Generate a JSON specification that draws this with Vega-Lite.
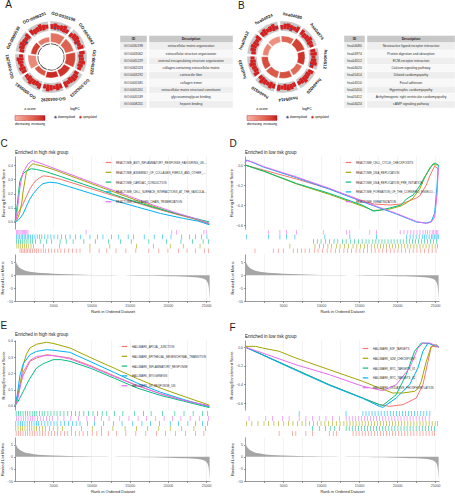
{
"$schema":"https://vega.github.io/schema/vega-lite/v6.json",
"padding":0,
"config":{"font":"Liberation Sans","view":{"stroke":null},
"axis":{"labelFontSize":3.5,"titleFontSize":4,"labelColor":"#4d4d4d","titleColor":"#1a1a1a","titleFontWeight":"normal","tickSize":1.5,"tickWidth":0.5,"tickColor":"#333333","domainColor":"#333333","domainWidth":0.5,"labelPadding":1,"titlePadding":2,"gridColor":"#e6e6e6","gridWidth":0.5},
"title":{"fontSize":4.5,"fontWeight":"normal","anchor":"start","color":"#1a1a1a","offset":2},
"legend":{"titleFontSize":3.5,"labelFontSize":3,"titleFontWeight":"normal"}},
"datasets":{
"sA":[{"id":"GO:0030198","t0":-1,"t1":35,"m":17,"h":9,"z":3.2},{"id":"GO:0043062","t0":39,"t1":75,"m":57,"h":8.5,"z":3.6},{"id":"GO:0045229","t0":79,"t1":115,"m":97,"h":9.5,"z":4.2},{"id":"GO:0062023","t0":119,"t1":155,"m":137,"h":7,"z":4.6},{"id":"GO:0043292","t0":159,"t1":195,"m":177,"h":6,"z":4.8},{"id":"GO:0005581","t0":199,"t1":235,"m":217,"h":5,"z":3.9},{"id":"GO:0005201","t0":239,"t1":275,"m":257,"h":8,"z":2.6},{"id":"GO:0005539","t0":279,"t1":315,"m":297,"h":5.5,"z":4.4},{"id":"GO:0008201","t0":319,"t1":355,"m":337,"h":5,"z":3.0}],
"sB":[{"id":"hsa04080","t0":-5,"t1":31,"m":13,"h":6,"z":3.5},{"id":"hsa04974","t0":35,"t1":71,"m":53,"h":8,"z":4.3},{"id":"hsa04512","t0":75,"t1":111,"m":93,"h":7,"z":4.6},{"id":"hsa04020","t0":115,"t1":151,"m":133,"h":6,"z":3.4},{"id":"hsa05414","t0":155,"t1":191,"m":173,"h":6.5,"z":4.0},{"id":"hsa04510","t0":195,"t1":231,"m":213,"h":7,"z":3.8},{"id":"hsa05410","t0":235,"t1":271,"m":253,"h":6.5,"z":4.1},{"id":"hsa05412","t0":275,"t1":311,"m":293,"h":5.5,"z":2.8},{"id":"hsa04024","t0":315,"t1":351,"m":333,"h":6,"z":2.4}],
"gA":[
{"a":-1,"b":5,"lo":2,"hi":7,"reg":"upregulated"},{"a":5,"b":11,"lo":1.5,"hi":8,"reg":"upregulated"},{"a":11,"b":17,"lo":2.5,"hi":6.5,"reg":"upregulated"},{"a":17,"b":23,"lo":2,"hi":7.5,"reg":"upregulated"},{"a":23,"b":29,"lo":1.5,"hi":8.5,"reg":"upregulated"},{"a":29,"b":35,"lo":2,"hi":6,"reg":"upregulated"},
{"a":39,"b":45,"lo":1.5,"hi":6,"reg":"upregulated"},{"a":45,"b":51,"lo":2,"hi":7.5,"reg":"upregulated"},{"a":51,"b":57,"lo":2,"hi":8,"reg":"upregulated"},{"a":57,"b":63,"lo":1,"hi":7,"reg":"upregulated"},{"a":63,"b":69,"lo":2.5,"hi":6.5,"reg":"upregulated"},{"a":69,"b":75,"lo":2,"hi":8,"reg":"upregulated"},
{"a":79,"b":85,"lo":2.5,"hi":8,"reg":"upregulated"},{"a":85,"b":91,"lo":1.5,"hi":6.5,"reg":"upregulated"},{"a":91,"b":97,"lo":2,"hi":7,"reg":"upregulated"},{"a":97,"b":103,"lo":2,"hi":8.5,"reg":"upregulated"},{"a":103,"b":109,"lo":1.5,"hi":7,"reg":"upregulated"},{"a":109,"b":115,"lo":2.5,"hi":6.5,"reg":"upregulated"},
{"a":119,"b":125,"lo":1.5,"hi":6,"reg":"upregulated"},{"a":125,"b":131,"lo":2,"hi":7.5,"reg":"upregulated"},{"a":131,"b":137,"lo":2,"hi":8,"reg":"upregulated"},{"a":137,"b":143,"lo":1,"hi":7,"reg":"upregulated"},{"a":143,"b":149,"lo":2.5,"hi":6.5,"reg":"upregulated"},{"a":149,"b":155,"lo":2,"hi":8,"reg":"upregulated"},
{"a":159,"b":165,"lo":2,"hi":7,"reg":"upregulated"},{"a":165,"b":171,"lo":1.5,"hi":8,"reg":"upregulated"},{"a":171,"b":177,"lo":2.5,"hi":6.5,"reg":"upregulated"},{"a":177,"b":183,"lo":2,"hi":7.5,"reg":"upregulated"},{"a":183,"b":189,"lo":1.5,"hi":8.5,"reg":"upregulated"},{"a":189,"b":195,"lo":2,"hi":6,"reg":"upregulated"},
{"a":199,"b":205,"lo":2.5,"hi":8,"reg":"upregulated"},{"a":205,"b":211,"lo":1.5,"hi":6.5,"reg":"upregulated"},{"a":211,"b":217,"lo":2,"hi":7,"reg":"upregulated"},{"a":217,"b":223,"lo":2,"hi":8.5,"reg":"upregulated"},{"a":223,"b":229,"lo":1.5,"hi":7,"reg":"upregulated"},{"a":229,"b":235,"lo":2.5,"hi":6.5,"reg":"upregulated"},
{"a":239,"b":245,"lo":2,"hi":7,"reg":"upregulated"},{"a":245,"b":251,"lo":1.5,"hi":8,"reg":"upregulated"},{"a":251,"b":257,"lo":2.5,"hi":6.5,"reg":"upregulated"},{"a":257,"b":263,"lo":2,"hi":7.5,"reg":"upregulated"},{"a":263,"b":269,"lo":1.5,"hi":8.5,"reg":"upregulated"},{"a":269,"b":275,"lo":2,"hi":6,"reg":"upregulated"},
{"a":279,"b":285,"lo":1.5,"hi":6,"reg":"upregulated"},{"a":285,"b":291,"lo":2,"hi":7.5,"reg":"upregulated"},{"a":291,"b":297,"lo":2,"hi":8,"reg":"upregulated"},{"a":297,"b":303,"lo":1,"hi":7,"reg":"upregulated"},{"a":303,"b":309,"lo":2.5,"hi":6.5,"reg":"upregulated"},{"a":309,"b":315,"lo":2,"hi":8,"reg":"upregulated"},
{"a":319,"b":325,"lo":2.5,"hi":8,"reg":"upregulated"},{"a":325,"b":331,"lo":1.5,"hi":6.5,"reg":"upregulated"},{"a":331,"b":337,"lo":2,"hi":7,"reg":"upregulated"},{"a":337,"b":343,"lo":2,"hi":8.5,"reg":"upregulated"},{"a":343,"b":349,"lo":1.5,"hi":7,"reg":"upregulated"},{"a":349,"b":355,"lo":2.5,"hi":6.5,"reg":"upregulated"},
{"a":5,"b":8,"lo":3,"hi":4.3,"reg":"downregulated"},{"a":13,"b":16,"lo":1.5,"hi":2.8,"reg":"downregulated"},{"a":60,"b":63,"lo":3,"hi":4.3,"reg":"downregulated"},{"a":88,"b":91,"lo":2,"hi":3.3,"reg":"downregulated"},{"a":290,"b":293,"lo":3,"hi":4.3,"reg":"downregulated"},{"a":299,"b":302,"lo":1.8,"hi":3.1,"reg":"downregulated"}],
"gB":[
{"a":-5,"b":1,"lo":1.5,"hi":6,"reg":"upregulated"},{"a":1,"b":7,"lo":2,"hi":7.5,"reg":"upregulated"},{"a":7,"b":13,"lo":2,"hi":8,"reg":"upregulated"},{"a":13,"b":19,"lo":1,"hi":7,"reg":"upregulated"},{"a":19,"b":25,"lo":2.5,"hi":6.5,"reg":"upregulated"},{"a":25,"b":31,"lo":2,"hi":8,"reg":"upregulated"},
{"a":35,"b":41,"lo":2.5,"hi":8,"reg":"upregulated"},{"a":41,"b":47,"lo":1.5,"hi":6.5,"reg":"upregulated"},{"a":47,"b":53,"lo":2,"hi":7,"reg":"upregulated"},{"a":53,"b":59,"lo":2,"hi":8.5,"reg":"upregulated"},{"a":59,"b":65,"lo":1.5,"hi":7,"reg":"upregulated"},{"a":65,"b":71,"lo":2.5,"hi":6.5,"reg":"upregulated"},
{"a":75,"b":81,"lo":2,"hi":7,"reg":"upregulated"},{"a":81,"b":87,"lo":1.5,"hi":8,"reg":"upregulated"},{"a":87,"b":93,"lo":2.5,"hi":6.5,"reg":"upregulated"},{"a":93,"b":99,"lo":2,"hi":7.5,"reg":"upregulated"},{"a":99,"b":105,"lo":1.5,"hi":8.5,"reg":"upregulated"},{"a":105,"b":111,"lo":2,"hi":6,"reg":"upregulated"},
{"a":115,"b":121,"lo":2.5,"hi":8,"reg":"upregulated"},{"a":121,"b":127,"lo":1.5,"hi":6.5,"reg":"upregulated"},{"a":127,"b":133,"lo":2,"hi":7,"reg":"upregulated"},{"a":133,"b":139,"lo":2,"hi":8.5,"reg":"upregulated"},{"a":139,"b":145,"lo":1.5,"hi":7,"reg":"upregulated"},{"a":145,"b":151,"lo":2.5,"hi":6.5,"reg":"upregulated"},
{"a":155,"b":161,"lo":1.5,"hi":6,"reg":"upregulated"},{"a":161,"b":167,"lo":2,"hi":7.5,"reg":"upregulated"},{"a":167,"b":173,"lo":2,"hi":8,"reg":"upregulated"},{"a":173,"b":179,"lo":1,"hi":7,"reg":"upregulated"},{"a":179,"b":185,"lo":2.5,"hi":6.5,"reg":"upregulated"},{"a":185,"b":191,"lo":2,"hi":8,"reg":"upregulated"},
{"a":195,"b":201,"lo":2,"hi":7,"reg":"upregulated"},{"a":201,"b":207,"lo":1.5,"hi":8,"reg":"upregulated"},{"a":207,"b":213,"lo":2.5,"hi":6.5,"reg":"upregulated"},{"a":213,"b":219,"lo":2,"hi":7.5,"reg":"upregulated"},{"a":219,"b":225,"lo":1.5,"hi":8.5,"reg":"upregulated"},{"a":225,"b":231,"lo":2,"hi":6,"reg":"upregulated"},
{"a":235,"b":241,"lo":2.5,"hi":8,"reg":"upregulated"},{"a":241,"b":247,"lo":1.5,"hi":6.5,"reg":"upregulated"},{"a":247,"b":253,"lo":2,"hi":7,"reg":"upregulated"},{"a":253,"b":259,"lo":2,"hi":8.5,"reg":"upregulated"},{"a":259,"b":265,"lo":1.5,"hi":7,"reg":"upregulated"},{"a":265,"b":271,"lo":2.5,"hi":6.5,"reg":"upregulated"},
{"a":275,"b":281,"lo":1.5,"hi":6,"reg":"upregulated"},{"a":281,"b":287,"lo":2,"hi":7.5,"reg":"upregulated"},{"a":287,"b":293,"lo":2,"hi":8,"reg":"upregulated"},{"a":293,"b":299,"lo":1,"hi":7,"reg":"upregulated"},{"a":299,"b":305,"lo":2.5,"hi":6.5,"reg":"upregulated"},{"a":305,"b":311,"lo":2,"hi":8,"reg":"upregulated"},
{"a":315,"b":321,"lo":2,"hi":7,"reg":"upregulated"},{"a":321,"b":327,"lo":1.5,"hi":8,"reg":"upregulated"},{"a":327,"b":333,"lo":2.5,"hi":6.5,"reg":"upregulated"},{"a":333,"b":339,"lo":2,"hi":7.5,"reg":"upregulated"},{"a":339,"b":345,"lo":1.5,"hi":8.5,"reg":"upregulated"},{"a":345,"b":351,"lo":2,"hi":6,"reg":"upregulated"},
{"a":344,"b":347,"lo":3,"hi":4.3,"reg":"downregulated"},{"a":14,"b":17,"lo":2.5,"hi":3.8,"reg":"downregulated"},{"a":104,"b":107,"lo":2,"hi":3.3,"reg":"downregulated"}],
"tA":[{"r":0,"id":"ID","d":"Description"},{"r":1,"id":"GO:0030198","d":"extracellular matrix organization"},{"r":2,"id":"GO:0043062","d":"extracellular structure organization"},{"r":3,"id":"GO:0045229","d":"external encapsulating structure organization"},{"r":4,"id":"GO:0062023","d":"collagen-containing extracellular matrix"},{"r":5,"id":"GO:0043292","d":"contractile fiber"},{"r":6,"id":"GO:0005581","d":"collagen trimer"},{"r":7,"id":"GO:0005201","d":"extracellular matrix structural constituent"},{"r":8,"id":"GO:0005539","d":"glycosaminoglycan binding"},{"r":9,"id":"GO:0008201","d":"heparin binding"}],
"tB":[{"r":0,"id":"ID","d":"Description"},{"r":1,"id":"hsa04080","d":"Neuroactive ligand-receptor interaction"},{"r":2,"id":"hsa04974","d":"Protein digestion and absorption"},{"r":3,"id":"hsa04512","d":"ECM-receptor interaction"},{"r":4,"id":"hsa04020","d":"Calcium signaling pathway"},{"r":5,"id":"hsa05414","d":"Dilated cardiomyopathy"},{"r":6,"id":"hsa04510","d":"Focal adhesion"},{"r":7,"id":"hsa05410","d":"Hypertrophic cardiomyopathy"},{"r":8,"id":"hsa05412","d":"Arrhythmogenic right ventricular cardiomyopathy"},{"r":9,"id":"hsa04024","d":"cAMP signaling pathway"}],
"nC":[{"k":"r","s":"REACTOME_ANTI_INFLAMMATORY_RESPONSE_FAVOURING_LEISHMANIA_PARASITE_INFECTION"},{"k":"o","s":"REACTOME_ASSEMBLY_OF_COLLAGEN_FIBRILS_AND_OTHER_MULTIMERIC_STRUCTURES"},{"k":"g","s":"REACTOME_CARDIAC_CONDUCTION"},{"k":"b","s":"REACTOME_CELL_SURFACE_INTERACTIONS_AT_THE_VASCULAR_WALL"},{"k":"p","s":"REACTOME_COLLAGEN_CHAIN_TRIMERIZATION"}],
"nD":[{"k":"r","s":"REACTOME_CELL_CYCLE_CHECKPOINTS"},{"k":"o","s":"REACTOME_DNA_REPLICATION"},{"k":"g","s":"REACTOME_DNA_REPLICATION_PRE_INITIATION"},{"k":"b","s":"REACTOME_FORMATION_OF_THE_CORNIFIED_ENVELOPE"},{"k":"p","s":"REACTOME_KERATINIZATION"}],
"nE":[{"k":"r","s":"HALLMARK_APICAL_JUNCTION"},{"k":"o","s":"HALLMARK_EPITHELIAL_MESENCHYMAL_TRANSITION"},{"k":"g","s":"HALLMARK_INFLAMMATORY_RESPONSE"},{"k":"b","s":"HALLMARK_MYOGENESIS"},{"k":"p","s":"HALLMARK_UV_RESPONSE_DN"}],
"nF":[{"k":"r","s":"HALLMARK_E2F_TARGETS"},{"k":"o","s":"HALLMARK_G2M_CHECKPOINT"},{"k":"g","s":"HALLMARK_MYC_TARGETS_V1"},{"k":"b","s":"HALLMARK_MYC_TARGETS_V2"},{"k":"p","s":"HALLMARK_OXIDATIVE_PHOSPHORYLATION"}],
"lC":[
{"k":"r","x":0,"y":0},{"k":"r","x":200,"y":0.03},{"k":"r","x":420,"y":0.065},{"k":"r","x":700,"y":0.09},{"k":"r","x":1046,"y":0.125},{"k":"r","x":1500,"y":0.18},{"k":"r","x":1920,"y":0.23},{"k":"r","x":2400,"y":0.27},{"k":"r","x":2790,"y":0.295},{"k":"r","x":3200,"y":0.31},{"k":"r","x":3700,"y":0.325},{"k":"r","x":4500,"y":0.32},{"k":"r","x":6000,"y":0.3},{"k":"r","x":9000,"y":0.25},{"k":"r","x":12000,"y":0.2},{"k":"r","x":15000,"y":0.15},{"k":"r","x":18000,"y":0.1},{"k":"r","x":21000,"y":0.055},{"k":"r","x":23500,"y":0.02},{"k":"r","x":25400,"y":-0.015},
{"k":"o","x":0,"y":0},{"k":"o","x":300,"y":0.02},{"k":"o","x":600,"y":0.06},{"k":"o","x":900,"y":0.14},{"k":"o","x":1046,"y":0.21},{"k":"o","x":1300,"y":0.29},{"k":"o","x":1480,"y":0.35},{"k":"o","x":1800,"y":0.38},{"k":"o","x":2100,"y":0.4},{"k":"o","x":2350,"y":0.41},{"k":"o","x":2700,"y":0.405},{"k":"o","x":3500,"y":0.395},{"k":"o","x":5000,"y":0.37},{"k":"o","x":8000,"y":0.31},{"k":"o","x":11000,"y":0.25},{"k":"o","x":14000,"y":0.19},{"k":"o","x":17000,"y":0.13},{"k":"o","x":20000,"y":0.075},{"k":"o","x":23000,"y":0.03},{"k":"o","x":25400,"y":-0.01},
{"k":"g","x":0,"y":0},{"k":"g","x":150,"y":0.06},{"k":"g","x":300,"y":0.125},{"k":"g","x":450,"y":0.2},{"k":"g","x":610,"y":0.28},{"k":"g","x":800,"y":0.31},{"k":"g","x":1046,"y":0.34},{"k":"g","x":1500,"y":0.36},{"k":"g","x":2140,"y":0.375},{"k":"g","x":2800,"y":0.37},{"k":"g","x":4000,"y":0.355},{"k":"g","x":6000,"y":0.32},{"k":"g","x":9000,"y":0.265},{"k":"g","x":12000,"y":0.21},{"k":"g","x":15000,"y":0.155},{"k":"g","x":18000,"y":0.105},{"k":"g","x":21000,"y":0.06},{"k":"g","x":23500,"y":0.025},{"k":"g","x":25400,"y":0},
{"k":"b","x":0,"y":0},{"k":"b","x":400,"y":0.01},{"k":"b","x":700,"y":0.03},{"k":"b","x":1046,"y":0.055},{"k":"b","x":1500,"y":0.11},{"k":"b","x":1920,"y":0.16},{"k":"b","x":2400,"y":0.2},{"k":"b","x":2790,"y":0.225},{"k":"b","x":3200,"y":0.25},{"k":"b","x":3660,"y":0.27},{"k":"b","x":4530,"y":0.28},{"k":"b","x":5500,"y":0.275},{"k":"b","x":7000,"y":0.25},{"k":"b","x":10000,"y":0.2},{"k":"b","x":13000,"y":0.15},{"k":"b","x":16000,"y":0.105},{"k":"b","x":19000,"y":0.06},{"k":"b","x":22000,"y":0.025},{"k":"b","x":24000,"y":0.005},{"k":"b","x":25400,"y":-0.02},
{"k":"p","x":0,"y":0},{"k":"p","x":150,"y":0.02},{"k":"p","x":300,"y":0.08},{"k":"p","x":450,"y":0.15},{"k":"p","x":610,"y":0.23},{"k":"p","x":800,"y":0.29},{"k":"p","x":1046,"y":0.35},{"k":"p","x":1400,"y":0.38},{"k":"p","x":1700,"y":0.41},{"k":"p","x":2000,"y":0.42},{"k":"p","x":2270,"y":0.435},{"k":"p","x":2600,"y":0.425},{"k":"p","x":3000,"y":0.42},{"k":"p","x":4000,"y":0.4},{"k":"p","x":6000,"y":0.36},{"k":"p","x":9000,"y":0.3},{"k":"p","x":12000,"y":0.24},{"k":"p","x":15000,"y":0.18},{"k":"p","x":18000,"y":0.12},{"k":"p","x":21000,"y":0.065},{"k":"p","x":23500,"y":0.025},{"k":"p","x":25400,"y":-0.01}],
"lD":[
{"k":"r","x":0,"y":0},{"k":"r","x":2406,"y":-0.05},{"k":"r","x":6780,"y":-0.14},{"k":"r","x":11150,"y":-0.24},{"k":"r","x":15530,"y":-0.36},{"k":"r","x":16840,"y":-0.39},{"k":"r","x":19030,"y":-0.4},{"k":"r","x":20500,"y":-0.39},{"k":"r","x":21210,"y":-0.37},{"k":"r","x":22530,"y":-0.33},{"k":"r","x":22960,"y":-0.31},{"k":"r","x":23840,"y":-0.2},{"k":"r","x":24280,"y":-0.11},{"k":"r","x":24930,"y":-0.01},{"k":"r","x":25410,"y":-0.04},
{"k":"o","x":0,"y":0},{"k":"o","x":2406,"y":-0.06},{"k":"o","x":6780,"y":-0.19},{"k":"o","x":11150,"y":-0.295},{"k":"o","x":15530,"y":-0.415},{"k":"o","x":16840,"y":-0.455},{"k":"o","x":18000,"y":-0.45},{"k":"o","x":19030,"y":-0.44},{"k":"o","x":20500,"y":-0.41},{"k":"o","x":21210,"y":-0.38},{"k":"o","x":22100,"y":-0.33},{"k":"o","x":22960,"y":-0.24},{"k":"o","x":23600,"y":-0.13},{"k":"o","x":24280,"y":-0.03},{"k":"o","x":24710,"y":0.005},{"k":"o","x":25410,"y":0},
{"k":"g","x":0,"y":0},{"k":"g","x":2406,"y":-0.06},{"k":"g","x":6780,"y":-0.185},{"k":"g","x":11150,"y":-0.285},{"k":"g","x":15530,"y":-0.405},{"k":"g","x":16840,"y":-0.46},{"k":"g","x":17500,"y":-0.455},{"k":"g","x":19030,"y":-0.43},{"k":"g","x":20500,"y":-0.4},{"k":"g","x":21210,"y":-0.34},{"k":"g","x":22100,"y":-0.3},{"k":"g","x":22960,"y":-0.21},{"k":"g","x":23600,"y":-0.12},{"k":"g","x":24280,"y":-0.04},{"k":"g","x":24710,"y":0.01},{"k":"g","x":25000,"y":0.02},{"k":"g","x":25410,"y":0},
{"k":"b","x":0,"y":0.02},{"k":"b","x":219,"y":0.05},{"k":"b","x":2406,"y":-0.02},{"k":"b","x":6780,"y":-0.127},{"k":"b","x":11150,"y":-0.243},{"k":"b","x":15530,"y":-0.37},{"k":"b","x":19900,"y":-0.49},{"k":"b","x":22530,"y":-0.57},{"k":"b","x":23840,"y":-0.58},{"k":"b","x":24490,"y":-0.565},{"k":"b","x":24930,"y":-0.48},{"k":"b","x":25240,"y":-0.21},{"k":"b","x":25410,"y":0},
{"k":"p","x":0,"y":0.02},{"k":"p","x":219,"y":0.045},{"k":"p","x":1000,"y":0.03},{"k":"p","x":2406,"y":-0.015},{"k":"p","x":6780,"y":-0.12},{"k":"p","x":11150,"y":-0.235},{"k":"p","x":15530,"y":-0.365},{"k":"p","x":19900,"y":-0.485},{"k":"p","x":22530,"y":-0.565},{"k":"p","x":23840,"y":-0.585},{"k":"p","x":24490,"y":-0.57},{"k":"p","x":24930,"y":-0.52},{"k":"p","x":25240,"y":-0.3},{"k":"p","x":25410,"y":-0.03}],
"lE":[
{"k":"r","x":0,"y":0},{"k":"r","x":300,"y":0.04},{"k":"r","x":652,"y":0.13},{"k":"r","x":1086,"y":0.19},{"k":"r","x":1955,"y":0.275},{"k":"r","x":2824,"y":0.295},{"k":"r","x":4127,"y":0.316},{"k":"r","x":5000,"y":0.31},{"k":"r","x":7168,"y":0.295},{"k":"r","x":10000,"y":0.245},{"k":"r","x":13000,"y":0.185},{"k":"r","x":16000,"y":0.125},{"k":"r","x":19000,"y":0.075},{"k":"r","x":22000,"y":0.035},{"k":"r","x":25413,"y":0},
{"k":"o","x":0,"y":0},{"k":"o","x":300,"y":0.05},{"k":"o","x":652,"y":0.13},{"k":"o","x":1086,"y":0.254},{"k":"o","x":1500,"y":0.32},{"k":"o","x":1955,"y":0.357},{"k":"o","x":2824,"y":0.38},{"k":"o","x":4127,"y":0.392},{"k":"o","x":5000,"y":0.385},{"k":"o","x":7168,"y":0.357},{"k":"o","x":10000,"y":0.295},{"k":"o","x":13000,"y":0.232},{"k":"o","x":16000,"y":0.168},{"k":"o","x":19000,"y":0.11},{"k":"o","x":22000,"y":0.06},{"k":"o","x":25413,"y":0.005},
{"k":"g","x":0,"y":0},{"k":"g","x":300,"y":0.02},{"k":"g","x":652,"y":0.05},{"k":"g","x":1086,"y":0.09},{"k":"g","x":1500,"y":0.13},{"k":"g","x":1955,"y":0.17},{"k":"g","x":2824,"y":0.234},{"k":"g","x":3692,"y":0.26},{"k":"g","x":4996,"y":0.285},{"k":"g","x":6000,"y":0.285},{"k":"g","x":7168,"y":0.275},{"k":"g","x":10000,"y":0.23},{"k":"g","x":13000,"y":0.17},{"k":"g","x":16000,"y":0.11},{"k":"g","x":19000,"y":0.065},{"k":"g","x":22000,"y":0.03},{"k":"g","x":25413,"y":-0.01},
{"k":"b","x":0,"y":0},{"k":"b","x":300,"y":0.07},{"k":"b","x":652,"y":0.19},{"k":"b","x":1086,"y":0.26},{"k":"b","x":1955,"y":0.316},{"k":"b","x":2824,"y":0.336},{"k":"b","x":4127,"y":0.346},{"k":"b","x":5000,"y":0.343},{"k":"b","x":7168,"y":0.33},{"k":"b","x":10000,"y":0.27},{"k":"b","x":13000,"y":0.205},{"k":"b","x":16000,"y":0.14},{"k":"b","x":19000,"y":0.085},{"k":"b","x":22000,"y":0.04},{"k":"b","x":25413,"y":-0.005},
{"k":"p","x":0,"y":0},{"k":"p","x":300,"y":0.03},{"k":"p","x":652,"y":0.11},{"k":"p","x":1086,"y":0.21},{"k":"p","x":1955,"y":0.28},{"k":"p","x":2824,"y":0.305},{"k":"p","x":4127,"y":0.31},{"k":"p","x":5000,"y":0.31},{"k":"p","x":7168,"y":0.29},{"k":"p","x":10000,"y":0.24},{"k":"p","x":13000,"y":0.18},{"k":"p","x":16000,"y":0.125},{"k":"p","x":19000,"y":0.075},{"k":"p","x":22000,"y":0.035},{"k":"p","x":25413,"y":0}],
"lF":[
{"k":"r","x":0,"y":0},{"k":"r","x":2286,"y":-0.082},{"k":"r","x":6683,"y":-0.243},{"k":"r","x":11080,"y":-0.404},{"k":"r","x":15476,"y":-0.547},{"k":"r","x":17674,"y":-0.618},{"k":"r","x":18993,"y":-0.636},{"k":"r","x":20752,"y":-0.618},{"k":"r","x":22510,"y":-0.547},{"k":"r","x":23390,"y":-0.404},{"k":"r","x":24050,"y":-0.154},{"k":"r","x":24490,"y":0.007},{"k":"r","x":25500,"y":0},
{"k":"o","x":0,"y":0.007},{"k":"o","x":1407,"y":0.007},{"k":"o","x":2286,"y":-0.011},{"k":"o","x":4484,"y":-0.046},{"k":"o","x":6683,"y":-0.118},{"k":"o","x":11080,"y":-0.243},{"k":"o","x":15476,"y":-0.368},{"k":"o","x":17674,"y":-0.44},{"k":"o","x":19433,"y":-0.493},{"k":"o","x":20752,"y":-0.493},{"k":"o","x":22290,"y":-0.475},{"k":"o","x":22800,"y":-0.44},{"k":"o","x":23170,"y":-0.368},{"k":"o","x":23830,"y":-0.154},{"k":"o","x":24490,"y":0.007},{"k":"o","x":25150,"y":0.025},{"k":"o","x":25500,"y":0},
{"k":"g","x":0,"y":0},{"k":"g","x":2286,"y":-0.082},{"k":"g","x":6683,"y":-0.243},{"k":"g","x":11080,"y":-0.404},{"k":"g","x":15476,"y":-0.547},{"k":"g","x":17674,"y":-0.618},{"k":"g","x":18114,"y":-0.625},{"k":"g","x":19872,"y":-0.511},{"k":"g","x":21191,"y":-0.296},{"k":"g","x":22290,"y":-0.046},{"k":"g","x":23170,"y":0.043},{"k":"g","x":24270,"y":0.035},{"k":"g","x":25500,"y":0},
{"k":"b","x":0,"y":0},{"k":"b","x":2286,"y":-0.085},{"k":"b","x":6683,"y":-0.25},{"k":"b","x":11080,"y":-0.41},{"k":"b","x":15476,"y":-0.55},{"k":"b","x":17674,"y":-0.636},{"k":"b","x":18114,"y":-0.647},{"k":"b","x":19872,"y":-0.547},{"k":"b","x":21631,"y":-0.404},{"k":"b","x":22730,"y":-0.225},{"k":"b","x":23390,"y":-0.046},{"k":"b","x":24050,"y":0.043},{"k":"b","x":25500,"y":0},
{"k":"p","x":0,"y":0},{"k":"p","x":2286,"y":-0.064},{"k":"p","x":6683,"y":-0.19},{"k":"p","x":11080,"y":-0.296},{"k":"p","x":15476,"y":-0.421},{"k":"p","x":18114,"y":-0.468},{"k":"p","x":19872,"y":-0.404},{"k":"p","x":21631,"y":-0.225},{"k":"p","x":22730,"y":-0.011},{"k":"p","x":23390,"y":0.043},{"k":"p","x":24270,"y":0.043},{"k":"p","x":25500,"y":0}],
"rk":[{"x":0,"y":7.5},{"x":50,"y":6.2},{"x":150,"y":5.0},{"x":300,"y":4.0},{"x":500,"y":3.2},{"x":800,"y":2.5},{"x":1200,"y":1.9},{"x":1800,"y":1.45},{"x":2500,"y":1.1},{"x":3500,"y":0.8},{"x":5000,"y":0.55},{"x":7000,"y":0.35},{"x":9000,"y":0.2},{"x":11000,"y":0.1},{"x":12500,"y":0.03},{"x":13500,"y":-0.03},{"x":15000,"y":-0.1},{"x":17000,"y":-0.2},{"x":19000,"y":-0.3},{"x":21000,"y":-0.45},{"x":22500,"y":-0.6},{"x":23500,"y":-0.8},{"x":24300,"y":-1.1},{"x":24800,"y":-1.6},{"x":25100,"y":-2.4},{"x":25300,"y":-4},{"x":25400,"y":-7},{"x":25450,"y":-9.8}],
"hC":[
{"k":"p","x":200},{"k":"p","x":350},{"k":"p","x":500},{"k":"p","x":650},{"k":"p","x":800},{"k":"p","x":950},{"k":"p","x":1100},{"k":"p","x":1250},{"k":"p","x":1400},{"k":"p","x":1550},{"k":"p","x":1700},{"k":"p","x":9300},{"k":"p","x":20500},{"k":"p","x":21100},{"k":"p","x":24700},{"k":"p","x":25000},
{"k":"b","x":200},{"k":"b","x":400},{"k":"b","x":600},{"k":"b","x":800},{"k":"b","x":1000},{"k":"b","x":1200},{"k":"b","x":1400},{"k":"b","x":1600},{"k":"b","x":1800},{"k":"b","x":2000},{"k":"b","x":2300},{"k":"b","x":2600},{"k":"b","x":2900},{"k":"b","x":3200},{"k":"b","x":3500},{"k":"b","x":3900},{"k":"b","x":4300},{"k":"b","x":4700},{"k":"b","x":5100},{"k":"b","x":5600},{"k":"b","x":6100},{"k":"b","x":6600},{"k":"b","x":7200},{"k":"b","x":7900},{"k":"b","x":8600},{"k":"b","x":9800},{"k":"b","x":10800},{"k":"b","x":11500},{"k":"b","x":12600},{"k":"b","x":13500},{"k":"b","x":14800},{"k":"b","x":15500},{"k":"b","x":16900},{"k":"b","x":18200},{"k":"b","x":19300},{"k":"b","x":20400},{"k":"b","x":21800},{"k":"b","x":22800},{"k":"b","x":23600},{"k":"b","x":24400},{"k":"b","x":25100},
{"k":"g","x":200},{"k":"g","x":450},{"k":"g","x":700},{"k":"g","x":950},{"k":"g","x":1200},{"k":"g","x":1450},{"k":"g","x":1700},{"k":"g","x":2000},{"k":"g","x":2300},{"k":"g","x":2700},{"k":"g","x":3300},{"k":"g","x":4100},{"k":"g","x":4800},{"k":"g","x":5900},{"k":"g","x":6700},{"k":"g","x":7600},{"k":"g","x":9000},{"k":"g","x":10500},{"k":"g","x":12200},{"k":"g","x":13800},{"k":"g","x":15200},{"k":"g","x":17500},{"k":"g","x":19800},{"k":"g","x":21700},{"k":"g","x":23200},{"k":"g","x":24600},{"k":"g","x":25300},
{"k":"o","x":250},{"k":"o","x":500},{"k":"o","x":750},{"k":"o","x":1000},{"k":"o","x":1250},{"k":"o","x":1500},{"k":"o","x":1800},{"k":"o","x":2100},{"k":"o","x":2400},{"k":"o","x":3700},{"k":"o","x":5800},{"k":"o","x":9800},{"k":"o","x":12400},{"k":"o","x":15900},{"k":"o","x":18100},{"k":"o","x":20300},{"k":"o","x":22000},{"k":"o","x":24200},
{"k":"r","x":650},{"k":"r","x":850},{"k":"r","x":1050},{"k":"r","x":1250},{"k":"r","x":1450},{"k":"r","x":1650},{"k":"r","x":1850},{"k":"r","x":2050},{"k":"r","x":2300},{"k":"r","x":2550},{"k":"r","x":2800},{"k":"r","x":3100},{"k":"r","x":3400},{"k":"r","x":3700},{"k":"r","x":4000},{"k":"r","x":4400},{"k":"r","x":4800},{"k":"r","x":5200},{"k":"r","x":5600},{"k":"r","x":6000},{"k":"r","x":6500},{"k":"r","x":7000},{"k":"r","x":7500},{"k":"r","x":8000},{"k":"r","x":8500},{"k":"r","x":9800},{"k":"r","x":11000},{"k":"r","x":12000},{"k":"r","x":13200},{"k":"r","x":14500},{"k":"r","x":15800},{"k":"r","x":17500},{"k":"r","x":18800},{"k":"r","x":20000},{"k":"r","x":21400},{"k":"r","x":22500},{"k":"r","x":23600},{"k":"r","x":24800},{"k":"r","x":25300}],
"hD":[
{"k":"p","x":3060},{"k":"p","x":4590},{"k":"p","x":5470},{"k":"p","x":6780},{"k":"p","x":10280},{"k":"p","x":13340},{"k":"p","x":13780},{"k":"p","x":16400},{"k":"p","x":17280},{"k":"p","x":20400},{"k":"p","x":20900},{"k":"p","x":21400},{"k":"p","x":21800},{"k":"p","x":22200},{"k":"p","x":22600},{"k":"p","x":23000},{"k":"p","x":23400},{"k":"p","x":23700},{"k":"p","x":24000},{"k":"p","x":24300},{"k":"p","x":24600},{"k":"p","x":24800},{"k":"p","x":25000},{"k":"p","x":25200},{"k":"p","x":25350},
{"k":"b","x":220},{"k":"b","x":3060},{"k":"b","x":4590},{"k":"b","x":5470},{"k":"b","x":6560},{"k":"b","x":10500},{"k":"b","x":13780},{"k":"b","x":17280},{"k":"b","x":21200},{"k":"b","x":21700},{"k":"b","x":22100},{"k":"b","x":22500},{"k":"b","x":22900},{"k":"b","x":23300},{"k":"b","x":23600},{"k":"b","x":23900},{"k":"b","x":24200},{"k":"b","x":24500},{"k":"b","x":24700},{"k":"b","x":24900},{"k":"b","x":25100},{"k":"b","x":25250},{"k":"b","x":25400},
{"k":"g","x":9000},{"k":"g","x":9500},{"k":"g","x":10000},{"k":"g","x":10600},{"k":"g","x":11100},{"k":"g","x":11700},{"k":"g","x":12200},{"k":"g","x":12800},{"k":"g","x":13300},{"k":"g","x":13900},{"k":"g","x":14400},{"k":"g","x":14900},{"k":"g","x":15400},{"k":"g","x":15900},{"k":"g","x":16300},{"k":"g","x":16800},{"k":"g","x":17200},{"k":"g","x":17600},{"k":"g","x":18000},{"k":"g","x":18400},{"k":"g","x":18800},{"k":"g","x":19200},{"k":"g","x":19600},{"k":"g","x":20000},{"k":"g","x":20400},{"k":"g","x":20800},{"k":"g","x":21200},{"k":"g","x":21600},{"k":"g","x":22000},{"k":"g","x":22400},{"k":"g","x":22800},{"k":"g","x":23200},{"k":"g","x":23600},{"k":"g","x":24000},{"k":"g","x":24400},{"k":"g","x":24800},{"k":"g","x":25200},
{"k":"o","x":5900},{"k":"o","x":9200},{"k":"o","x":9800},{"k":"o","x":10300},{"k":"o","x":10900},{"k":"o","x":11400},{"k":"o","x":12000},{"k":"o","x":12500},{"k":"o","x":13100},{"k":"o","x":13600},{"k":"o","x":14200},{"k":"o","x":14700},{"k":"o","x":15200},{"k":"o","x":15700},{"k":"o","x":16100},{"k":"o","x":16600},{"k":"o","x":17000},{"k":"o","x":17400},{"k":"o","x":17800},{"k":"o","x":18200},{"k":"o","x":18600},{"k":"o","x":19000},{"k":"o","x":19400},{"k":"o","x":19800},{"k":"o","x":20200},{"k":"o","x":20600},{"k":"o","x":21000},{"k":"o","x":21400},{"k":"o","x":21800},{"k":"o","x":22200},{"k":"o","x":22600},{"k":"o","x":23000},{"k":"o","x":23400},{"k":"o","x":23800},{"k":"o","x":24200},{"k":"o","x":24600},{"k":"o","x":25000},{"k":"o","x":25300},
{"k":"r","x":1310},{"k":"r","x":3720},{"k":"r","x":4370},{"k":"r","x":5030},{"k":"r","x":6340},{"k":"r","x":6900},{"k":"r","x":7400},{"k":"r","x":7900},{"k":"r","x":8500},{"k":"r","x":9100},{"k":"r","x":9600},{"k":"r","x":10200},{"k":"r","x":10800},{"k":"r","x":11300},{"k":"r","x":11900},{"k":"r","x":12400},{"k":"r","x":13000},{"k":"r","x":13500},{"k":"r","x":14000},{"k":"r","x":14600},{"k":"r","x":15100},{"k":"r","x":15600},{"k":"r","x":16100},{"k":"r","x":16600},{"k":"r","x":17100},{"k":"r","x":17600},{"k":"r","x":18100},{"k":"r","x":18600},{"k":"r","x":19100},{"k":"r","x":19600},{"k":"r","x":20100},{"k":"r","x":20600},{"k":"r","x":21100},{"k":"r","x":21600},{"k":"r","x":22100},{"k":"r","x":22600},{"k":"r","x":23100},{"k":"r","x":23600},{"k":"r","x":24100},{"k":"r","x":24600},{"k":"r","x":25100}],
"hE":[
{"k":"g","x":150},{"k":"g","x":450},{"k":"g","x":750},{"k":"g","x":1050},{"k":"g","x":1350},{"k":"g","x":1650},{"k":"g","x":1950},{"k":"g","x":2250},{"k":"g","x":2550},{"k":"g","x":2850},{"k":"g","x":3200},{"k":"g","x":3550},{"k":"g","x":3900},{"k":"g","x":4300},{"k":"g","x":4700},{"k":"g","x":5100},{"k":"g","x":5500},{"k":"g","x":5900},{"k":"g","x":6400},{"k":"g","x":6900},{"k":"g","x":7400},{"k":"g","x":7900},{"k":"g","x":8400},{"k":"g","x":9000},{"k":"g","x":9600},{"k":"g","x":10200},{"k":"g","x":10800},{"k":"g","x":11400},{"k":"g","x":12000},{"k":"g","x":13000},{"k":"g","x":14100},{"k":"g","x":15600},{"k":"g","x":16800},{"k":"g","x":17800},{"k":"g","x":19300},{"k":"g","x":20900},{"k":"g","x":22100},{"k":"g","x":23300},{"k":"g","x":24500},{"k":"g","x":25200},
{"k":"p","x":200},{"k":"p","x":500},{"k":"p","x":800},{"k":"p","x":1100},{"k":"p","x":1400},{"k":"p","x":1700},{"k":"p","x":2000},{"k":"p","x":2300},{"k":"p","x":2600},{"k":"p","x":2950},{"k":"p","x":3300},{"k":"p","x":3700},{"k":"p","x":4100},{"k":"p","x":4500},{"k":"p","x":4900},{"k":"p","x":5600},{"k":"p","x":6400},{"k":"p","x":7300},{"k":"p","x":8300},{"k":"p","x":9400},{"k":"p","x":10400},{"k":"p","x":11300},{"k":"p","x":12300},{"k":"p","x":13700},{"k":"p","x":14900},{"k":"p","x":16100},{"k":"p","x":17200},{"k":"p","x":18400},{"k":"p","x":19500},{"k":"p","x":20600},{"k":"p","x":21700},{"k":"p","x":22900},{"k":"p","x":24100},{"k":"p","x":25300},
{"k":"b","x":100},{"k":"b","x":400},{"k":"b","x":700},{"k":"b","x":1000},{"k":"b","x":1300},{"k":"b","x":1600},{"k":"b","x":1900},{"k":"b","x":2200},{"k":"b","x":2500},{"k":"b","x":2800},{"k":"b","x":3100},{"k":"b","x":3500},{"k":"b","x":3900},{"k":"b","x":4300},{"k":"b","x":4700},{"k":"b","x":5100},{"k":"b","x":5500},{"k":"b","x":6000},{"k":"b","x":6500},{"k":"b","x":7000},{"k":"b","x":7500},{"k":"b","x":8000},{"k":"b","x":8500},{"k":"b","x":9500},{"k":"b","x":10400},{"k":"b","x":11600},{"k":"b","x":12900},{"k":"b","x":14000},{"k":"b","x":15400},{"k":"b","x":16600},{"k":"b","x":17700},{"k":"b","x":18900},{"k":"b","x":20300},{"k":"b","x":21400},{"k":"b","x":22600},{"k":"b","x":23600},{"k":"b","x":24500},{"k":"b","x":25200},
{"k":"o","x":100},{"k":"o","x":400},{"k":"o","x":700},{"k":"o","x":1000},{"k":"o","x":1300},{"k":"o","x":1600},{"k":"o","x":1900},{"k":"o","x":2200},{"k":"o","x":2500},{"k":"o","x":2800},{"k":"o","x":3200},{"k":"o","x":3600},{"k":"o","x":4000},{"k":"o","x":4500},{"k":"o","x":5000},{"k":"o","x":5600},{"k":"o","x":6200},{"k":"o","x":7400},{"k":"o","x":8700},{"k":"o","x":10100},{"k":"o","x":11300},{"k":"o","x":12800},{"k":"o","x":14400},{"k":"o","x":15900},{"k":"o","x":17300},{"k":"o","x":18800},{"k":"o","x":20300},{"k":"o","x":21800},{"k":"o","x":23400},{"k":"o","x":24900},
{"k":"r","x":150},{"k":"r","x":450},{"k":"r","x":750},{"k":"r","x":1050},{"k":"r","x":1350},{"k":"r","x":1650},{"k":"r","x":1950},{"k":"r","x":2250},{"k":"r","x":2550},{"k":"r","x":2900},{"k":"r","x":3250},{"k":"r","x":3600},{"k":"r","x":3950},{"k":"r","x":4350},{"k":"r","x":4750},{"k":"r","x":5150},{"k":"r","x":5550},{"k":"r","x":6000},{"k":"r","x":6450},{"k":"r","x":6900},{"k":"r","x":7400},{"k":"r","x":7900},{"k":"r","x":8400},{"k":"r","x":8900},{"k":"r","x":9500},{"k":"r","x":10100},{"k":"r","x":10700},{"k":"r","x":11300},{"k":"r","x":12200},{"k":"r","x":13300},{"k":"r","x":14500},{"k":"r","x":15800},{"k":"r","x":17100},{"k":"r","x":18500},{"k":"r","x":19700},{"k":"r","x":21000},{"k":"r","x":22300},{"k":"r","x":23600},{"k":"r","x":24700}],
"hF":[
{"k":"b","x":7120},{"k":"b","x":13280},{"k":"b","x":15500},{"k":"b","x":15900},{"k":"b","x":16300},{"k":"b","x":16700},{"k":"b","x":17100},{"k":"b","x":17500},{"k":"b","x":17900},{"k":"b","x":18300},{"k":"b","x":18700},{"k":"b","x":19100},{"k":"b","x":19500},{"k":"b","x":19900},{"k":"b","x":20300},{"k":"b","x":20700},{"k":"b","x":21100},{"k":"b","x":21500},{"k":"b","x":21900},{"k":"b","x":22300},{"k":"b","x":22700},{"k":"b","x":23100},{"k":"b","x":23500},{"k":"b","x":23900},{"k":"b","x":24300},
{"k":"p","x":530},{"k":"p","x":2730},{"k":"p","x":3600},{"k":"p","x":4920},{"k":"p","x":5800},{"k":"p","x":7120},{"k":"p","x":8000},{"k":"p","x":8880},{"k":"p","x":9760},{"k":"p","x":10640},{"k":"p","x":11520},{"k":"p","x":12400},{"k":"p","x":13300},{"k":"p","x":13700},{"k":"p","x":14100},{"k":"p","x":14500},{"k":"p","x":14900},{"k":"p","x":15300},{"k":"p","x":15700},{"k":"p","x":16100},{"k":"p","x":16500},{"k":"p","x":16900},{"k":"p","x":17300},{"k":"p","x":17700},{"k":"p","x":18100},{"k":"p","x":18500},{"k":"p","x":18900},{"k":"p","x":19300},{"k":"p","x":19700},{"k":"p","x":20100},{"k":"p","x":20500},{"k":"p","x":20900},{"k":"p","x":21300},{"k":"p","x":21700},{"k":"p","x":22100},{"k":"p","x":22500},{"k":"p","x":22900},{"k":"p","x":23300},{"k":"p","x":23700},{"k":"p","x":24200},
{"k":"o","x":200},{"k":"o","x":900},{"k":"o","x":1700},{"k":"o","x":2500},{"k":"o","x":3100},{"k":"o","x":3800},{"k":"o","x":4400},{"k":"o","x":5100},{"k":"o","x":5700},{"k":"o","x":6300},{"k":"o","x":6900},{"k":"o","x":7500},{"k":"o","x":8000},{"k":"o","x":8500},{"k":"o","x":9000},{"k":"o","x":9500},{"k":"o","x":10000},{"k":"o","x":10500},{"k":"o","x":11000},{"k":"o","x":11500},{"k":"o","x":12000},{"k":"o","x":12500},{"k":"o","x":13000},{"k":"o","x":13400},{"k":"o","x":13800},{"k":"o","x":14200},{"k":"o","x":14600},{"k":"o","x":15000},{"k":"o","x":15400},{"k":"o","x":15800},{"k":"o","x":16200},{"k":"o","x":16600},{"k":"o","x":17000},{"k":"o","x":17400},{"k":"o","x":17800},{"k":"o","x":18200},{"k":"o","x":18600},{"k":"o","x":19000},{"k":"o","x":19400},{"k":"o","x":19800},{"k":"o","x":20200},{"k":"o","x":20600},{"k":"o","x":21000},{"k":"o","x":21400},{"k":"o","x":21800},{"k":"o","x":22200},{"k":"o","x":22600},{"k":"o","x":23000},{"k":"o","x":23400},{"k":"o","x":23800},{"k":"o","x":24200},{"k":"o","x":24600},{"k":"o","x":25000},{"k":"o","x":25300},
{"k":"g","x":8880},{"k":"g","x":9760},{"k":"g","x":10600},{"k":"g","x":11200},{"k":"g","x":11800},{"k":"g","x":12400},{"k":"g","x":13300},{"k":"g","x":13700},{"k":"g","x":14100},{"k":"g","x":14500},{"k":"g","x":14900},{"k":"g","x":15300},{"k":"g","x":15700},{"k":"g","x":16100},{"k":"g","x":16500},{"k":"g","x":16900},{"k":"g","x":17300},{"k":"g","x":17700},{"k":"g","x":18100},{"k":"g","x":18500},{"k":"g","x":18900},{"k":"g","x":19300},{"k":"g","x":19700},{"k":"g","x":20100},{"k":"g","x":20500},{"k":"g","x":20900},{"k":"g","x":21300},{"k":"g","x":21700},{"k":"g","x":22100},{"k":"g","x":22500},{"k":"g","x":22900},{"k":"g","x":23300},{"k":"g","x":23700},{"k":"g","x":24100},{"k":"g","x":24500},{"k":"g","x":24900},
{"k":"r","x":4480},{"k":"r","x":6240},{"k":"r","x":6680},{"k":"r","x":8000},{"k":"r","x":8880},{"k":"r","x":11080},{"k":"r","x":11600},{"k":"r","x":12000},{"k":"r","x":14200},{"k":"r","x":14600},{"k":"r","x":15000},{"k":"r","x":15400},{"k":"r","x":15800},{"k":"r","x":16200},{"k":"r","x":16600},{"k":"r","x":17000},{"k":"r","x":17400},{"k":"r","x":17800},{"k":"r","x":18200},{"k":"r","x":18600},{"k":"r","x":19000},{"k":"r","x":19400},{"k":"r","x":19800},{"k":"r","x":20200},{"k":"r","x":20600},{"k":"r","x":21000},{"k":"r","x":21400},{"k":"r","x":21800},{"k":"r","x":22200},{"k":"r","x":22600},{"k":"r","x":23000},{"k":"r","x":23400},{"k":"r","x":23800},{"k":"r","x":24200},{"k":"r","x":24600},{"k":"r","x":24900}]
},
"vconcat":[
{"hconcat":[
 {"title":{"text":"A","fontSize":10,"anchor":"start","frame":"bounds","offset":1},
  "hconcat":[
   {"width":72,"height":72,
    "layer":[
     {"data":{"name":"sA"},"mark":{"type":"arc","radius":36,"radius2":26,"color":"#c8c8c8","stroke":"#ffffff","strokeWidth":0.3},
      "encoding":{"theta":{"field":"t0","type":"quantitative","stack":null,"scale":{"domain":[0,360],"range":[0,6.2832],"zero":false,"nice":false}},"theta2":{"field":"t1"}}},
     {"data":{"name":"sA"},"mark":{"type":"arc","stroke":"#ffffff","strokeWidth":0.3},
      "encoding":{"theta":{"field":"t0","type":"quantitative","stack":null,"scale":{"domain":[0,360],"range":[0,6.2832],"zero":false,"nice":false}},"theta2":{"field":"t1"},
       "radius":{"field":"h","type":"quantitative","scale":{"type":"linear","domain":[0,10],"range":[15,25],"zero":false,"nice":false}},"radius2":{"datum":0},
       "color":{"field":"z","type":"quantitative","scale":{"domain":[1.5,5],"range":["#f6b3a6","#c6161c"]},
        "legend":{"title":"z-score","orient":"bottom","direction":"horizontal","gradientLength":30,"gradientThickness":5,"values":[1.5,5],"labelExpr":"datum.value < 3 ? 'decreasing' : 'increasing'","titleFontSize":3.5,"labelFontSize":3,"titleAnchor":"middle","offset":14,"gradientStrokeColor":"#b2182b","gradientStrokeWidth":0.4,"labelOverlap":false}}}},
     {"data":{"name":"gA"},"mark":{"type":"arc"},
      "encoding":{"theta":{"field":"a","type":"quantitative","stack":null,"scale":{"domain":[0,360],"range":[0,6.2832],"zero":false,"nice":false}},"theta2":{"field":"b"},
       "radius":{"field":"hi","type":"quantitative","scale":{"type":"linear","domain":[0,10],"range":[26,36],"zero":false,"nice":false}},"radius2":{"field":"lo"},
       "fill":{"field":"reg","type":"nominal","scale":{"domain":["downregulated","upregulated"],"range":["#2c5aa0","#d42020"]},
        "legend":{"title":"logFC","orient":"bottom","direction":"horizontal","symbolType":"circle","symbolSize":6,"titleFontSize":3.5,"labelFontSize":2.6,"labelOffset":1,"titleAnchor":"middle","offset":14,"columnPadding":2,"symbolStrokeColor":"#bbbbbb","symbolStrokeWidth":0.5}}}},
     {"data":{"name":"sA"},"mark":{"type":"arc","radius":13.5,"radius2":12.8,"color":"#3a2a2a"},
      "encoding":{"theta":{"field":"t0","type":"quantitative","stack":null,"scale":{"domain":[0,360],"range":[0,6.2832],"zero":false,"nice":false}},"theta2":{"field":"t1"}}},
     {"data":{"name":"sA"},"mark":{"type":"text","radius":42,"fontSize":4.3,"fontWeight":"bold","color":"#1a1a1a"},
      "encoding":{"theta":{"field":"m","type":"quantitative","stack":null,"scale":{"domain":[0,360],"range":[0,6.2832],"zero":false,"nice":false}},"text":{"field":"id"},
       "angle":{"field":"m","type":"quantitative","scale":{"domain":[0,360],"range":[0,360],"zero":false,"nice":false}}}}
    ],
    "resolve":{"scale":{"radius":"independent","color":"independent","fill":"independent"}}},
   {"hconcat":[
     {"width":27,"height":87,"data":{"name":"tA"},
      "encoding":{"y":{"field":"r","type":"ordinal","scale":{"paddingInner":0,"paddingOuter":1.692,"align":1},"axis":null}},
      "layer":[
       {"mark":{"type":"rect","stroke":"#ffffff","strokeWidth":0.4},"encoding":{"color":{"field":"r","type":"ordinal","scale":{"range":["#c8c8c8","#eeeeee","#f8f8f8","#eeeeee","#f8f8f8","#eeeeee","#f8f8f8","#eeeeee","#f8f8f8","#eeeeee"]},"legend":null}}},
       {"transform":[{"filter":"datum.r == 0"}],"mark":{"type":"text","fontSize":3.4,"fontWeight":"bold","color":"#222222"},"encoding":{"text":{"field":"id"}}},
       {"transform":[{"filter":"datum.r > 0"}],"mark":{"type":"text","fontSize":3.3,"color":"#333333"},"encoding":{"text":{"field":"id"}}}]},
     {"width":84,"height":87,"data":{"name":"tA"},
      "encoding":{"y":{"field":"r","type":"ordinal","scale":{"paddingInner":0,"paddingOuter":1.692,"align":1},"axis":null}},
      "layer":[
       {"mark":{"type":"rect","stroke":"#ffffff","strokeWidth":0.4},"encoding":{"color":{"field":"r","type":"ordinal","scale":{"range":["#c8c8c8","#eeeeee","#f8f8f8","#eeeeee","#f8f8f8","#eeeeee","#f8f8f8","#eeeeee","#f8f8f8","#eeeeee"]},"legend":null}}},
       {"transform":[{"filter":"datum.r == 0"}],"mark":{"type":"text","fontSize":3.4,"fontWeight":"bold","color":"#222222"},"encoding":{"text":{"field":"d"}}},
       {"transform":[{"filter":"datum.r > 0"}],"mark":{"type":"text","fontSize":3.3,"color":"#333333"},"encoding":{"text":{"field":"d"}}}]}
    ],"spacing":0}
  ],"spacing":22,"resolve":{"scale":{"color":"independent","fill":"independent","radius":"independent"}}},
 {"title":{"text":"B","fontSize":10,"anchor":"start","frame":"bounds","offset":1},
  "hconcat":[
   {"width":72,"height":72,
    "layer":[
     {"data":{"name":"sB"},"mark":{"type":"arc","radius":36,"radius2":26,"color":"#c8c8c8","stroke":"#ffffff","strokeWidth":0.3},
      "encoding":{"theta":{"field":"t0","type":"quantitative","stack":null,"scale":{"domain":[0,360],"range":[0,6.2832],"zero":false,"nice":false}},"theta2":{"field":"t1"}}},
     {"data":{"name":"sB"},"mark":{"type":"arc","stroke":"#ffffff","strokeWidth":0.3},
      "encoding":{"theta":{"field":"t0","type":"quantitative","stack":null,"scale":{"domain":[0,360],"range":[0,6.2832],"zero":false,"nice":false}},"theta2":{"field":"t1"},
       "radius":{"field":"h","type":"quantitative","scale":{"type":"linear","domain":[0,10],"range":[15,25],"zero":false,"nice":false}},"radius2":{"datum":0},
       "color":{"field":"z","type":"quantitative","scale":{"domain":[1.5,5],"range":["#f6b3a6","#c6161c"]},
        "legend":{"title":"z-score","orient":"bottom","direction":"horizontal","gradientLength":30,"gradientThickness":5,"values":[1.5,5],"labelExpr":"datum.value < 3 ? 'decreasing' : 'increasing'","titleFontSize":3.5,"labelFontSize":3,"titleAnchor":"middle","offset":14,"gradientStrokeColor":"#b2182b","gradientStrokeWidth":0.4,"labelOverlap":false}}}},
     {"data":{"name":"gB"},"mark":{"type":"arc"},
      "encoding":{"theta":{"field":"a","type":"quantitative","stack":null,"scale":{"domain":[0,360],"range":[0,6.2832],"zero":false,"nice":false}},"theta2":{"field":"b"},
       "radius":{"field":"hi","type":"quantitative","scale":{"type":"linear","domain":[0,10],"range":[26,36],"zero":false,"nice":false}},"radius2":{"field":"lo"},
       "fill":{"field":"reg","type":"nominal","scale":{"domain":["downregulated","upregulated"],"range":["#2c5aa0","#d42020"]},
        "legend":{"title":"logFC","orient":"bottom","direction":"horizontal","symbolType":"circle","symbolSize":6,"titleFontSize":3.5,"labelFontSize":2.6,"labelOffset":1,"titleAnchor":"middle","offset":14,"columnPadding":2,"symbolStrokeColor":"#bbbbbb","symbolStrokeWidth":0.5}}}},
     {"data":{"name":"sB"},"mark":{"type":"text","radius":42,"fontSize":4.3,"fontWeight":"bold","color":"#1a1a1a"},
      "encoding":{"theta":{"field":"m","type":"quantitative","stack":null,"scale":{"domain":[0,360],"range":[0,6.2832],"zero":false,"nice":false}},"text":{"field":"id"},
       "angle":{"field":"m","type":"quantitative","scale":{"domain":[0,360],"range":[0,360],"zero":false,"nice":false}}}}
    ],
    "resolve":{"scale":{"radius":"independent","color":"independent","fill":"independent"}}},
   {"hconcat":[
     {"width":21,"height":87,"data":{"name":"tB"},
      "encoding":{"y":{"field":"r","type":"ordinal","scale":{"paddingInner":0,"paddingOuter":1.692,"align":1},"axis":null}},
      "layer":[
       {"mark":{"type":"rect","stroke":"#ffffff","strokeWidth":0.4},"encoding":{"color":{"field":"r","type":"ordinal","scale":{"range":["#c8c8c8","#eeeeee","#f8f8f8","#eeeeee","#f8f8f8","#eeeeee","#f8f8f8","#eeeeee","#f8f8f8","#eeeeee"]},"legend":null}}},
       {"transform":[{"filter":"datum.r == 0"}],"mark":{"type":"text","fontSize":3.4,"fontWeight":"bold","color":"#222222"},"encoding":{"text":{"field":"id"}}},
       {"transform":[{"filter":"datum.r > 0"}],"mark":{"type":"text","fontSize":3.3,"color":"#333333"},"encoding":{"text":{"field":"id"}}}]},
     {"width":88,"height":87,"data":{"name":"tB"},
      "encoding":{"y":{"field":"r","type":"ordinal","scale":{"paddingInner":0,"paddingOuter":1.692,"align":1},"axis":null}},
      "layer":[
       {"mark":{"type":"rect","stroke":"#ffffff","strokeWidth":0.4},"encoding":{"color":{"field":"r","type":"ordinal","scale":{"range":["#c8c8c8","#eeeeee","#f8f8f8","#eeeeee","#f8f8f8","#eeeeee","#f8f8f8","#eeeeee","#f8f8f8","#eeeeee"]},"legend":null}}},
       {"transform":[{"filter":"datum.r == 0"}],"mark":{"type":"text","fontSize":3.4,"fontWeight":"bold","color":"#222222"},"encoding":{"text":{"field":"d"}}},
       {"transform":[{"filter":"datum.r > 0"}],"mark":{"type":"text","fontSize":3.3,"color":"#333333"},"encoding":{"text":{"field":"d"}}}]}
    ],"spacing":0}
  ],"spacing":14,"resolve":{"scale":{"color":"independent","fill":"independent","radius":"independent"}}}
],"spacing":4,"resolve":{"scale":{"color":"independent","fill":"independent","radius":"independent"}}},
{"vconcat":[
{"hconcat":[
  {"title":{"text":"C","fontSize":10,"anchor":"start","frame":"bounds","offset":1},
   "vconcat":[
    {"width":195,"height":73,"title":{"text":"Enriched in high risk group","frame":"group"},"data":{"name":"lC"},
     "transform":[{"lookup":"k","from":{"data":{"name":"nC"},"key":"k","fields":["s"]}}],
     "mark":{"type":"line","strokeWidth":1},
     "encoding":{"x":{"field":"x","type":"quantitative","scale":{"domain":[0,25500],"nice":false,"zero":false},"axis":{"values":[2500,5000,7500,10000,12500,15000,17500,20000,22500,25000],"labels":false,"ticks":false,"domain":false,"title":null,"grid":true}},
      "y":{"field":"y","type":"quantitative","scale":{"domain":[-0.05,0.465],"nice":false,"zero":false},"axis":{"values":[0,0.1,0.2,0.3,0.4],"format":".1f","title":"Running Enrichment Score","grid":false}},
      "color":{"field":"s","type":"nominal","scale":{"domain":["REACTOME_ANTI_INFLAMMATORY_RESPONSE_FAVOURING_LEISHMANIA_PARASITE_INFECTION","REACTOME_ASSEMBLY_OF_COLLAGEN_FIBRILS_AND_OTHER_MULTIMERIC_STRUCTURES","REACTOME_CARDIAC_CONDUCTION","REACTOME_CELL_SURFACE_INTERACTIONS_AT_THE_VASCULAR_WALL","REACTOME_COLLAGEN_CHAIN_TRIMERIZATION"],"range":["#F8766D","#A3A500","#00BF7D","#00B0F6","#E76BF3"]},
       "legend":{"orient":"top-right","title":null,"labelFontSize":2.8,"symbolType":"stroke","symbolStrokeWidth":1.2,"symbolSize":30,"rowPadding":3.8,"padding":1,"offset":2,"labelLimit":92,"labelColor":"#333333"}}}},
    {"width":195,"height":23,"data":{"name":"hC"},"mark":{"type":"tick","thickness":0.7,"size":4.6,"opacity":0.8},
     "encoding":{"x":{"field":"x","type":"quantitative","scale":{"domain":[0,25500],"nice":false,"zero":false},"axis":null},
      "y":{"field":"k","type":"nominal","scale":{"domain":["p","b","g","o","r"],"paddingInner":0,"paddingOuter":0},"axis":null},
      "color":{"field":"k","type":"nominal","scale":{"domain":["r","o","g","b","p"],"range":["#F8766D","#A3A500","#00BF7D","#00B0F6","#E76BF3"]},"legend":null}}},
    {"width":195,"height":47,"data":{"name":"rk"},"mark":{"type":"area","color":"#a6a6a6","interpolate":"monotone"},
     "encoding":{"x":{"field":"x","type":"quantitative","scale":{"domain":[0,25500],"nice":false,"zero":false},"axis":{"values":[2500,5000,7500,10000,12500,15000,17500,20000,22500,25000],"format":"d","labelExpr":"datum.value % 5000 == 0 ? datum.label : ''","title":"Rank in Ordered Dataset","grid":true}},
      "y":{"field":"y","type":"quantitative","scale":{"domain":[-10,8.2],"nice":false,"zero":false},"axis":{"values":[-10,-5,0,5],"title":"Ranked List Metric","grid":false}},"y2":{"datum":0}}}
   ],"spacing":1,"resolve":{"scale":{"color":"independent"}}},
  {"title":{"text":"D","fontSize":10,"anchor":"start","frame":"bounds","offset":1},
   "vconcat":[
    {"width":194,"height":73,"title":{"text":"Enriched in low risk group","frame":"group"},"data":{"name":"lD"},
     "transform":[{"lookup":"k","from":{"data":{"name":"nD"},"key":"k","fields":["s"]}}],
     "mark":{"type":"line","strokeWidth":1},
     "encoding":{"x":{"field":"x","type":"quantitative","scale":{"domain":[0,25500],"nice":false,"zero":false},"axis":{"values":[2500,5000,7500,10000,12500,15000,17500,20000,22500,25000],"labels":false,"ticks":false,"domain":false,"title":null,"grid":true}},
      "y":{"field":"y","type":"quantitative","scale":{"domain":[-0.64,0.09],"nice":false,"zero":false},"axis":{"values":[0,-0.2,-0.4,-0.6],"format":".1f","title":"Running Enrichment Score","grid":false}},
      "color":{"field":"s","type":"nominal","scale":{"domain":["REACTOME_CELL_CYCLE_CHECKPOINTS","REACTOME_DNA_REPLICATION","REACTOME_DNA_REPLICATION_PRE_INITIATION","REACTOME_FORMATION_OF_THE_CORNIFIED_ENVELOPE","REACTOME_KERATINIZATION"],"range":["#F8766D","#A3A500","#00BF7D","#00B0F6","#E76BF3"]},
       "legend":{"orient":"top-right","title":null,"labelFontSize":2.8,"symbolType":"stroke","symbolStrokeWidth":1.2,"symbolSize":30,"rowPadding":3.8,"padding":1,"offset":2,"labelLimit":80,"labelColor":"#333333"}}}},
    {"width":194,"height":23,"data":{"name":"hD"},"mark":{"type":"tick","thickness":0.7,"size":4.6,"opacity":0.8},
     "encoding":{"x":{"field":"x","type":"quantitative","scale":{"domain":[0,25500],"nice":false,"zero":false},"axis":null},
      "y":{"field":"k","type":"nominal","scale":{"domain":["p","b","g","o","r"],"paddingInner":0,"paddingOuter":0},"axis":null},
      "color":{"field":"k","type":"nominal","scale":{"domain":["r","o","g","b","p"],"range":["#F8766D","#A3A500","#00BF7D","#00B0F6","#E76BF3"]},"legend":null}}},
    {"width":194,"height":47,"data":{"name":"rk"},"mark":{"type":"area","color":"#a6a6a6","interpolate":"monotone"},
     "encoding":{"x":{"field":"x","type":"quantitative","scale":{"domain":[0,25500],"nice":false,"zero":false},"axis":{"values":[2500,5000,7500,10000,12500,15000,17500,20000,22500,25000],"format":"d","labelExpr":"datum.value % 5000 == 0 ? datum.label : ''","title":"Rank in Ordered Dataset","grid":true}},
      "y":{"field":"y","type":"quantitative","scale":{"domain":[-10,8.2],"nice":false,"zero":false},"axis":{"values":[-10,-5,0,5],"title":"Ranked List Metric","grid":false}},"y2":{"datum":0}}}
   ],"spacing":1,"resolve":{"scale":{"color":"independent"}}}
 ],"spacing":17,"resolve":{"scale":{"color":"independent"}}},
{"hconcat":[
  {"title":{"text":"E","fontSize":10,"anchor":"start","frame":"bounds","offset":1},
   "vconcat":[
    {"width":195,"height":70,"title":{"text":"Enriched in high risk group","frame":"group"},"data":{"name":"lE"},
     "transform":[{"lookup":"k","from":{"data":{"name":"nE"},"key":"k","fields":["s"]}}],
     "mark":{"type":"line","strokeWidth":1},
     "encoding":{"x":{"field":"x","type":"quantitative","scale":{"domain":[0,25500],"nice":false,"zero":false},"axis":{"values":[2500,5000,7500,10000,12500,15000,17500,20000,22500,25000],"labels":false,"ticks":false,"domain":false,"title":null,"grid":true}},
      "y":{"field":"y","type":"quantitative","scale":{"domain":[-0.025,0.406],"nice":false,"zero":false},"axis":{"values":[0,0.1,0.2,0.3,0.4],"format":".1f","title":"Running Enrichment Score","grid":false}},
      "color":{"field":"s","type":"nominal","scale":{"domain":["HALLMARK_APICAL_JUNCTION","HALLMARK_EPITHELIAL_MESENCHYMAL_TRANSITION","HALLMARK_INFLAMMATORY_RESPONSE","HALLMARK_MYOGENESIS","HALLMARK_UV_RESPONSE_DN"],"range":["#F8766D","#A3A500","#00BF7D","#00B0F6","#E76BF3"]},
       "legend":{"orient":"top-right","title":null,"labelFontSize":2.8,"symbolType":"stroke","symbolStrokeWidth":1.2,"symbolSize":30,"rowPadding":3.8,"padding":1,"offset":2,"labelLimit":80,"labelColor":"#333333"}}}},
    {"width":195,"height":25,"data":{"name":"hE"},"mark":{"type":"tick","thickness":0.7,"size":5,"opacity":0.8},
     "encoding":{"x":{"field":"x","type":"quantitative","scale":{"domain":[0,25500],"nice":false,"zero":false},"axis":null},
      "y":{"field":"k","type":"nominal","scale":{"domain":["g","p","b","o","r"],"paddingInner":0,"paddingOuter":0},"axis":null},
      "color":{"field":"k","type":"nominal","scale":{"domain":["r","o","g","b","p"],"range":["#F8766D","#A3A500","#00BF7D","#00B0F6","#E76BF3"]},"legend":null}}},
    {"width":195,"height":44,"data":{"name":"rk"},"mark":{"type":"area","color":"#a6a6a6","interpolate":"monotone"},
     "encoding":{"x":{"field":"x","type":"quantitative","scale":{"domain":[0,25500],"nice":false,"zero":false},"axis":{"values":[2500,5000,7500,10000,12500,15000,17500,20000,22500,25000],"format":"d","labelExpr":"datum.value % 5000 == 0 ? datum.label : ''","title":"Rank in Ordered Dataset","grid":true}},
      "y":{"field":"y","type":"quantitative","scale":{"domain":[-10,8.2],"nice":false,"zero":false},"axis":{"values":[-10,-5,0,5],"title":"Ranked List Metric","grid":false}},"y2":{"datum":0}}}
   ],"spacing":1,"resolve":{"scale":{"color":"independent"}}},
  {"title":{"text":"F","fontSize":10,"anchor":"start","frame":"bounds","offset":1},
   "vconcat":[
    {"width":194,"height":70,"title":{"text":"Enriched in low risk group","frame":"group"},"data":{"name":"lF"},
     "transform":[{"lookup":"k","from":{"data":{"name":"nF"},"key":"k","fields":["s"]}}],
     "mark":{"type":"line","strokeWidth":1},
     "encoding":{"x":{"field":"x","type":"quantitative","scale":{"domain":[0,25500],"nice":false,"zero":false},"axis":{"values":[2500,5000,7500,10000,12500,15000,17500,20000,22500,25000],"labels":false,"ticks":false,"domain":false,"title":null,"grid":true}},
      "y":{"field":"y","type":"quantitative","scale":{"domain":[-0.675,0.075],"nice":false,"zero":false},"axis":{"values":[0,-0.2,-0.4,-0.6],"format":".1f","title":"Running Enrichment Score","grid":false}},
      "color":{"field":"s","type":"nominal","scale":{"domain":["HALLMARK_E2F_TARGETS","HALLMARK_G2M_CHECKPOINT","HALLMARK_MYC_TARGETS_V1","HALLMARK_MYC_TARGETS_V2","HALLMARK_OXIDATIVE_PHOSPHORYLATION"],"range":["#F8766D","#A3A500","#00BF7D","#00B0F6","#E76BF3"]},
       "legend":{"orient":"top-right","title":null,"labelFontSize":2.8,"symbolType":"stroke","symbolStrokeWidth":1.2,"symbolSize":30,"rowPadding":3.8,"padding":1,"offset":4,"labelLimit":80,"labelColor":"#333333"}}}},
    {"width":194,"height":25,"data":{"name":"hF"},"mark":{"type":"tick","thickness":0.7,"size":5,"opacity":0.8},
     "encoding":{"x":{"field":"x","type":"quantitative","scale":{"domain":[0,25500],"nice":false,"zero":false},"axis":null},
      "y":{"field":"k","type":"nominal","scale":{"domain":["b","p","o","g","r"],"paddingInner":0,"paddingOuter":0},"axis":null},
      "color":{"field":"k","type":"nominal","scale":{"domain":["r","o","g","b","p"],"range":["#F8766D","#A3A500","#00BF7D","#00B0F6","#E76BF3"]},"legend":null}}},
    {"width":194,"height":44,"data":{"name":"rk"},"mark":{"type":"area","color":"#a6a6a6","interpolate":"monotone"},
     "encoding":{"x":{"field":"x","type":"quantitative","scale":{"domain":[0,25500],"nice":false,"zero":false},"axis":{"values":[2500,5000,7500,10000,12500,15000,17500,20000,22500,25000],"format":"d","labelExpr":"datum.value % 5000 == 0 ? datum.label : ''","title":"Rank in Ordered Dataset","grid":true}},
      "y":{"field":"y","type":"quantitative","scale":{"domain":[-10,8.2],"nice":false,"zero":false},"axis":{"values":[-10,-5,0,5],"title":"Ranked List Metric","grid":false}},"y2":{"datum":0}}}
   ],"spacing":1,"resolve":{"scale":{"color":"independent"}}}
 ],"spacing":17,"resolve":{"scale":{"color":"independent"}}}
],"spacing":8,"resolve":{"scale":{"color":"independent"}}}
],
"spacing":12,
"resolve":{"scale":{"color":"independent","fill":"independent","radius":"independent"}}
}
